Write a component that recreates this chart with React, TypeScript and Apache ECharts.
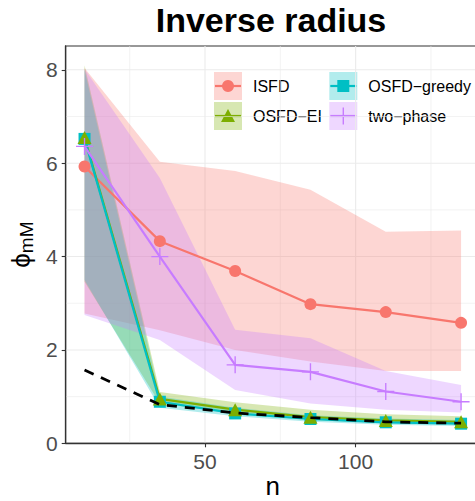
import React, { useEffect, useRef } from "react";
import * as echarts from "echarts";

const N = [10, 35, 60, 85, 110, 135];
const ISFD_MEAN = [5.93, 4.33, 3.69, 2.98, 2.81, 2.58];
const ISFD_LO = [2.78, 2.42, 2.0, 1.75, 1.55, 1.55];
const ISFD_HI = [8.04, 6.03, 5.83, 5.43, 4.53, 4.56];
const GREEDY_MEAN = [6.52, 0.89, 0.64, 0.52, 0.45, 0.42];
const GREEDY_LO = [3.5, 0.76, 0.58, 0.46, 0.4, 0.37];
const GREEDY_HI = [8.0, 1.0, 0.76, 0.6, 0.53, 0.5];
const EI_MEAN = [6.55, 0.95, 0.72, 0.56, 0.49, 0.46];
const EI_LO = [3.46, 0.85, 0.64, 0.5, 0.44, 0.41];
const EI_HI = [8.1, 1.1, 0.88, 0.72, 0.62, 0.58];
const TWO_MEAN = [6.36, 4.0, 1.68, 1.53, 1.11, 0.89];
const TWO_LO = [2.75, 2.21, 1.14, 0.85, 0.72, 0.66];
const TWO_HI = [8.02, 5.68, 2.43, 2.25, 1.55, 1.25];
const OPTIMAL = [1.57, 0.83, 0.65, 0.55, 0.46, 0.43];

const X_MAJOR = [50, 100];
const X_MINOR = [25, 75, 125];
const Y_MAJOR = [0, 2, 4, 6, 8];
const Y_MINOR = [1, 3, 5, 7];
const X_MIN = 3.75;
const X_MAX = 141.25;
const Y_MIN = 0;
const Y_MAX = 8.51;

const TITLE = "Inverse radius";
const LEGEND_NAMES = ["ISFD", "OSFD\u2212EI", "OSFD\u2212greedy", "two\u2212phase"];

const C_ISFD = "#F8766D";
const C_EI = "#7CAE00";
const C_GREEDY = "#00BFC4";
const C_TWO = "#C77CFF";
const FONT = "Liberation Sans";

function band(lo: number[], hi: number[], color: string) {
  return {
    type: "custom",
    z: 1,
    silent: true,
    data: N.map((n, i) => [n, lo[i], hi[i]]),
    encode: { x: 0, y: [1, 2] },
    renderItem: (params: any, api: any) => {
      if (params.dataIndex !== 0) return null;
      const pts: number[][] = [];
      for (let i = 0; i < N.length; i++) pts.push(api.coord([N[i], hi[i]]));
      for (let i = N.length - 1; i >= 0; i--) pts.push(api.coord([N[i], lo[i]]));
      return {
        type: "polygon",
        shape: { points: pts },
        style: { fill: color, opacity: 0.3 },
      };
    },
  };
}

function gridLines(vals: number[], dir: "x" | "y", width: number) {
  return {
    type: "custom",
    z: 0,
    silent: true,
    data: vals.map((v) => (dir === "x" ? [v, Y_MIN] : [X_MIN, v])),
    renderItem: (params: any, api: any) => {
      const cs = params.coordSys;
      const p = api.coord([api.value(0), api.value(1)]);
      const shape =
        dir === "x"
          ? { x1: p[0], y1: cs.y, x2: p[0], y2: cs.y + cs.height }
          : { x1: cs.x, y1: p[1], x2: cs.x + cs.width, y2: p[1] };
      return { type: "line", shape, style: { stroke: "#EBEBEB", lineWidth: width } };
    },
  };
}

function lineOnly(name: string, vals: number[], color: string) {
  return {
    type: "line",
    name,
    z: 3,
    data: N.map((n, i) => [n, vals[i]]),
    symbol: "none",
    lineStyle: { color, width: 2.2 },
  };
}

function points(name: string, vals: number[], color: string, symbol: any, size: any) {
  return {
    type: "scatter",
    name,
    z: 4,
    data: N.map((n, i) => [n, vals[i]]),
    symbol,
    symbolSize: size,
    itemStyle: { color, opacity: 1 },
  };
}

const PLUS = "path://M9.2,0H10.8V9.2H20V10.8H10.8V20H9.2V10.8H0V9.2H9.2Z";

function legendKey(x: number, y: number, color: string, kind: string, label: string) {
  const cx = x + 14;
  const cy = y + 14;
  const children: any[] = [
    { type: "rect", shape: { x, y, width: 28, height: 28 }, style: { fill: color, opacity: 0.3 } },
  ];
  children.push({
    type: "line",
    shape: { x1: x + 1, y1: cy, x2: x + 27, y2: cy },
    style: { stroke: color, lineWidth: 2.2 },
  });
  if (kind === "circle") {
    children.push({ type: "circle", shape: { cx, cy, r: 6 }, style: { fill: color } });
  } else if (kind === "triangle") {
    children.push({
      type: "polygon",
      shape: { points: [[cx, cy - 7], [cx - 7, cy + 6], [cx + 7, cy + 6]] },
      style: { fill: color },
    });
  } else if (kind === "square") {
    children.push({ type: "rect", shape: { x: cx - 6, y: cy - 6, width: 12, height: 12 }, style: { fill: color } });
  } else {
    children.push({
      type: "line",
      shape: { x1: cx, y1: cy - 8.5, x2: cx, y2: cy + 8.5 },
      style: { stroke: color, lineWidth: 1.4 },
    });
  }
  children.push({
    type: "text",
    x: x + 39,
    y: cy,
    style: {
      text: label,
      fill: "#000",
      font: `16px "${FONT}"`,
      textAlign: "left",
      textVerticalAlign: "middle",
    },
  });
  return children;
}

export default function App() {
  const ref = useRef<HTMLDivElement>(null);
  useEffect(() => {
    if (!ref.current) return;
    const chart = echarts.init(ref.current, null, { renderer: "svg" });
    const option: any = {
      animation: false,
      backgroundColor: "#fff",
      grid: {
        left: 65.7,
        top: 46,
        right: -4.9,
        bottom: 57.7,
        containLabel: false,
        outerBoundsMode: "none",
        show: true,
        borderColor: "#333",
        borderWidth: 1.1,
      },
      xAxis: {
        type: "value",
        min: X_MIN,
        max: X_MAX,
        axisLine: { show: true, onZero: false, lineStyle: { color: "#333", width: 1.3 } },
        axisTick: { show: true, length: 4, lineStyle: { color: "#333", width: 1.1 }, customValues: X_MAJOR },
        axisLabel: {
          customValues: X_MAJOR,
          color: "#4D4D4D",
          fontSize: 21,
          fontFamily: FONT,
          margin: 8,
          formatter: (v: number) => (X_MAJOR.includes(v) ? String(v) : ""),
        },
        splitLine: { show: false },
        name: "n",
        nameLocation: "middle",
        nameMoveOverlap: false,
        nameGap: 30,
        nameTextStyle: { color: "#000", fontSize: 26, lineHeight: 26, fontFamily: FONT },
      },
      yAxis: {
        type: "value",
        min: Y_MIN,
        max: Y_MAX,
        axisLine: { show: true, onZero: false, lineStyle: { color: "#333", width: 1.3 } },
        axisTick: { show: true, length: 4, lineStyle: { color: "#333", width: 1.1 }, customValues: Y_MAJOR },
        axisLabel: {
          customValues: Y_MAJOR,
          color: "#4D4D4D",
          fontSize: 21,
          fontFamily: FONT,
          margin: 8,
          formatter: (v: number) => (Y_MAJOR.includes(v) ? String(v) : ""),
        },
        splitLine: { show: false },
        name: "{p|\u03D5}{s|mM}",
        nameLocation: "middle",
        nameMoveOverlap: false,
        nameRotate: 90,
        nameGap: 30,
        nameTextStyle: {
          color: "#000",
          fontFamily: FONT,
          rich: {
            p: { fontSize: 26, fontFamily: FONT, color: "#000", lineHeight: 28, verticalAlign: "top" },
            s: { fontSize: 19, fontFamily: FONT, color: "#000", lineHeight: 19, verticalAlign: "bottom" },
          },
        },
      },
      graphic: [
        {
          type: "text",
          x: 271,
          y: 3,
          z: 100,
          style: {
            text: TITLE,
            fill: "#000",
            font: `bold 34px "${FONT}"`,
            textAlign: "center",
            textVerticalAlign: "top",
          },
        },
        {
          type: "group",
          z: 100,
          children: [
            { type: "rect", shape: { x: 203, y: 50, width: 280, height: 90 }, style: { fill: "#fff" } },
            ...legendKey(214, 72, C_ISFD, "circle", LEGEND_NAMES[0]),
            ...legendKey(214, 102, C_EI, "triangle", LEGEND_NAMES[1]),
            ...legendKey(329.3, 72, C_GREEDY, "square", LEGEND_NAMES[2]),
            ...legendKey(329.3, 102, C_TWO, "plus", LEGEND_NAMES[3]),
          ],
        },
      ],
      series: [
        gridLines(X_MINOR, "x", 0.6),
        gridLines(Y_MINOR, "y", 0.6),
        gridLines(X_MAJOR, "x", 1.1),
        gridLines(Y_MAJOR, "y", 1.1),
        band(ISFD_LO, ISFD_HI, C_ISFD),
        band(EI_LO, EI_HI, C_EI),
        band(GREEDY_LO, GREEDY_HI, C_GREEDY),
        band(TWO_LO, TWO_HI, C_TWO),
        lineOnly(LEGEND_NAMES[0], ISFD_MEAN, C_ISFD),
        lineOnly(LEGEND_NAMES[1], EI_MEAN, C_EI),
        lineOnly(LEGEND_NAMES[2], GREEDY_MEAN, C_GREEDY),
        lineOnly(LEGEND_NAMES[3], TWO_MEAN, C_TWO),
        points(LEGEND_NAMES[0], ISFD_MEAN, C_ISFD, "circle", 12),
        points(LEGEND_NAMES[2], GREEDY_MEAN, C_GREEDY, "rect", 12),
        points(LEGEND_NAMES[1], EI_MEAN, C_EI, "triangle", [14, 13]),
        points(LEGEND_NAMES[3], TWO_MEAN, C_TWO, PLUS, 17),
        {
          type: "line",
          name: "optimal",
          z: 5,
          data: N.map((n, i) => [n, OPTIMAL[i]]),
          symbol: "none",
          lineStyle: { color: "#000", width: 2.8, type: [10, 8], cap: "butt" },
        },
      ],
    };
    chart.setOption(option);
    return () => chart.dispose();
  }, []);
  return (
    <div
      ref={ref}
      style={{ position: "fixed", left: 0, top: 0, width: 475, height: 501, background: "#fff" }}
    />
  );
}
